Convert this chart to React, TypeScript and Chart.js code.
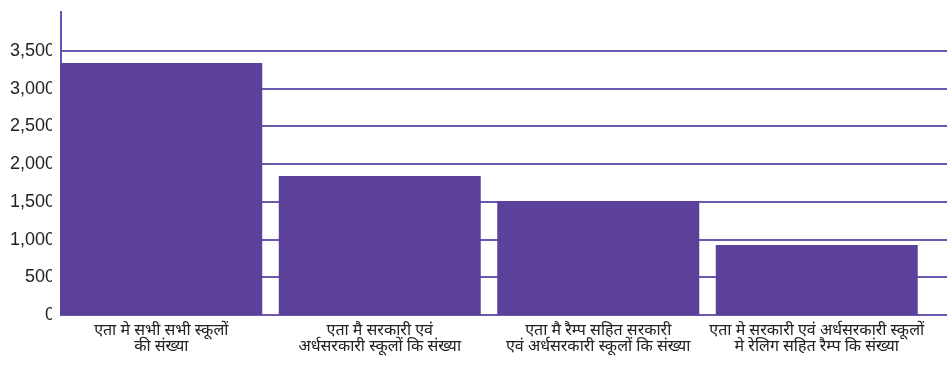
import React, { useEffect, useRef } from "react";
import { Chart, registerables } from "chart.js";

Chart.register(...registerables);

const categories: string[][] = [
  ["एता मे सभी सभी स्कूलों", "की संख्या"],
  ["एता मै सरकारी एवं", "अर्धसरकारी स्कूलों कि संख्या"],
  ["एता मै रैम्प सहित सरकारी", "एवं अर्धसरकारी स्कूलों कि संख्या"],
  ["एता मे सरकारी एवं अर्धसरकारी स्कूलों", "मे रेलिग सहित रैम्प कि संख्या"],
];
const values: number[] = [3342, 1844, 1512, 928];
const yMax = 4030;
const tickStep = 500;
const tickTop = 3500;

const BAR_COLOR = "#5b4199";
const GRID_COLOR = "#6c58ad";
const AXIS_COLOR = "#6a52b8";

const gridPlugin = {
  id: "customGrid",
  beforeDatasetsDraw(chart: any) {
    const { ctx, scales } = chart;
    const y = scales.y;
    const axisX = 61;
    ctx.save();
    ctx.strokeStyle = GRID_COLOR;
    ctx.lineWidth = 2;
    y.ticks.forEach((t: any) => {
      const py = Math.round(y.getPixelForValue(t.value));
      ctx.beginPath();
      ctx.moveTo(axisX, py);
      ctx.lineTo(chart.width, py);
      ctx.stroke();
    });
    ctx.strokeStyle = AXIS_COLOR;
    ctx.beginPath();
    ctx.moveTo(axisX, chart.chartArea.top);
    ctx.lineTo(axisX, y.getPixelForValue(0) + 1);
    ctx.stroke();
    ctx.restore();
  },
};

export default function App() {
  const ref = useRef<HTMLCanvasElement | null>(null);
  useEffect(() => {
    document.body.style.margin = "0";
    if (!ref.current) return;
    const chart = new Chart(ref.current, {
      type: "bar",
      data: {
        labels: categories,
        datasets: [
          {
            data: values,
            backgroundColor: BAR_COLOR,
            borderWidth: 0,
            barPercentage: 202 / 218.5,
            categoryPercentage: 1,
          },
        ],
      },
      options: {
        animation: false,
        responsive: true,
        maintainAspectRatio: false,
        layout: { padding: { top: 11, right: 21, left: 0, bottom: 0 } },
        plugins: { legend: { display: false }, tooltip: { enabled: false } },
        scales: {
          x: {
            grid: { display: false, drawTicks: false },
            border: { display: false },
            afterFit: (s: any) => {
              s.height = 50;
            },
            ticks: {
              padding: 9,
              maxRotation: 0,
              autoSkip: false,
              color: "#222",
              font: { family: "'Noto Sans Devanagari', 'Lohit Devanagari', 'Noto Sans', sans-serif", size: 16, lineHeight: 1.0 },
            },
          },
          y: {
            min: 0,
            max: yMax,
            grid: { display: false, drawTicks: false },
            border: { display: false },
            afterFit: (s: any) => {
              s.width = 52;
            },
            afterBuildTicks: (s: any) => {
              const t: any[] = [];
              for (let v = 0; v <= tickTop; v += tickStep) t.push({ value: v });
              s.ticks = t;
            },
            ticks: {
              padding: -3,
              color: "#222",
              font: { family: "'Liberation Sans', Arial, sans-serif", size: 18 },
              callback: (v: any) => Number(v).toLocaleString("en-US"),
            },
          },
        },
      },
      plugins: [gridPlugin],
    });
    return () => chart.destroy();
  }, []);
  return (
    <div style={{ width: 947, height: 365, position: "relative" }}>
      <canvas ref={ref} />
    </div>
  );
}
